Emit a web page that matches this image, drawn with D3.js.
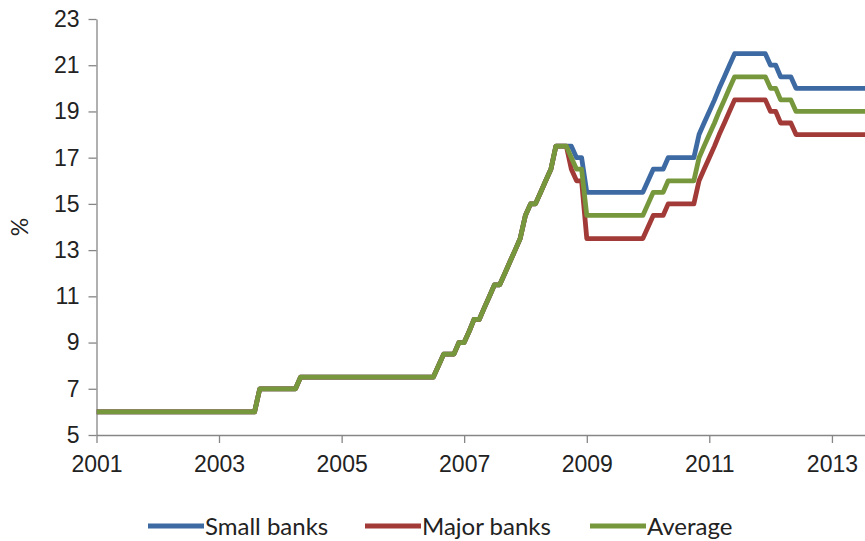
<!DOCTYPE html>
<html>
<head>
<meta charset="utf-8">
<script src="https://cdn.jsdelivr.net/npm/d3@7"></script>
<style>
  body { margin: 0; background: #fff; }
  svg { display: block; font-family: Lato, "Open Sans", sans-serif; }
  .axis path, .axis line { stroke: #868686; stroke-width: 1.3; }
  .axis text { fill: #222; font-size: 23px; }
</style>
</head>
<body>
<div id="chart"></div>
<script>
// DATA
// ------------------------------------------------------------------

// Months where the ratio changes ("YYYY-MM"), the new value is reached at month end
var sharedMonths = ["2000-12", "2003-08", "2004-04", "2006-07", "2006-08", "2006-11",
                    "2007-01", "2007-02", "2007-04", "2007-05", "2007-06", "2007-08",
                    "2007-09", "2007-10", "2007-11", "2007-12", "2008-01", "2008-03",
                    "2008-04", "2008-05", "2008-06"],
    sharedValues = [6, 7, 7.5, 8, 8.5, 9,
                    9.5, 10, 10.5, 11, 11.5, 12,
                    12.5, 13, 13.5, 14.5, 15, 15.5,
                    16, 16.5, 17.5];

var laterMonths = ["2008-09", "2008-10", "2008-12", "2009-12", "2010-01", "2010-04",
                   "2010-10", "2010-11", "2010-12", "2011-01", "2011-02", "2011-03",
                   "2011-04", "2011-05", "2011-12", "2012-02", "2012-05", "2013-07"];
var smallBanks = [17.5, 17, 15.5, 16, 16.5, 17,
                  18, 18.5, 19, 19.5, 20, 20.5,
                  21, 21.5, 21, 20.5, 20, 20];
var majorBanks = [16.5, 16, 13.5, 14, 14.5, 15,
                  16, 16.5, 17, 17.5, 18, 18.5,
                  19, 19.5, 19, 18.5, 18, 18];
var average    = [17, 16.5, 14.5, 15, 15.5, 16,
                  17, 17.5, 18, 18.5, 19, 19.5,
                  20, 20.5, 20, 19.5, 19, 19];

var seriesNames = ["Small banks", "Major banks", "Average"],
    seriesColors = ["#3d6aa3", "#a23b38", "#77973c"];

var tickYears = [2001, 2003, 2005, 2007, 2009, 2011, 2013],
    yTicks = [5, 7, 9, 11, 13, 15, 17, 19, 21, 23];

// CANVAS
// ------------------------------------------------------------------

var width = 865,
    height = 541;

var svg = d3.select("#chart")
    .append("svg")
    .attr("width", width)
    .attr("height", height);

// AXES
// ------------------------------------------------------------------

var plotLeft = 96.5, plotRight = 865, plotTop = 19, plotBottom = 435;

var xScale = d3.scaleTime()
        .domain([new Date(2001, 0, 1), new Date(2013, 6, 17)])
        .range([plotLeft, plotRight]),
    yScale = d3.scaleLinear()
        .domain([5, 23])
        .range([plotBottom, plotTop]);

var xAxis = d3.axisBottom(xScale)
        .tickValues(tickYears.map(function(y) { return new Date(y, 0, 1); }))
        .tickFormat(d3.timeFormat("%Y"))
        .tickSizeInner(8)
        .tickSizeOuter(0)
        .tickPadding(13),
    yAxis = d3.axisLeft(yScale)
        .tickValues(yTicks)
        .tickSizeInner(8)
        .tickSizeOuter(0)
        .tickPadding(9);

svg.append("g")
    .attr("class", "axis")
    .attr("transform", "translate(0," + plotBottom + ")")
    .call(xAxis);
svg.append("g")
    .attr("class", "axis")
    .attr("transform", "translate(" + plotLeft + ",0)")
    .call(yAxis);

svg.append("text")
    .attr("transform", "translate(28," + ((plotTop + plotBottom) / 2) + ") rotate(-90)")
    .style("text-anchor", "middle")
    .style("font-size", "23px")
    .attr("fill", "#222")
    .text("%");

// PATHS
// ------------------------------------------------------------------

var parseMonth = d3.timeParse("%Y-%m");

// hold the old value until the start of the month, reach the new one at its end
function stepPoints(months, values) {
  var pts = [];
  months.forEach(function(m, i) {
    var start = parseMonth(m),
        end = d3.timeMonth.offset(start, 1);
    if (i > 0) pts.push([start, values[i - 1]]);
    pts.push([end, values[i]]);
  });
  return pts;
}

var line = d3.line()
    .x(function(d) { return xScale(d[0]); })
    .y(function(d) { return yScale(d[1]); });

svg.append("clipPath")
    .attr("id", "plot-clip")
  .append("rect")
    .attr("x", plotLeft)
    .attr("y", 0)
    .attr("width", plotRight - plotLeft)
    .attr("height", plotBottom);

[smallBanks, majorBanks, average].forEach(function(vals, i) {
  var pts = stepPoints(sharedMonths.concat(laterMonths), sharedValues.concat(vals));
  svg.append("path")
      .attr("clip-path", "url(#plot-clip)")
      .attr("d", line(pts))
      .attr("fill", "none")
      .attr("stroke", seriesColors[i])
      .attr("stroke-width", 4.8)
      .attr("stroke-linejoin", "round");
});

// LEGEND
// ------------------------------------------------------------------

var legendX = [148, 365, 590];

var legend = svg.selectAll(".legend")
    .data(seriesNames)
    .enter().append("g")
    .attr("class", "legend")
    .attr("transform", function(d, i) { return "translate(" + legendX[i] + ",526)"; });

legend.append("line")
    .attr("x1", 0)
    .attr("x2", 56)
    .attr("stroke", function(d, i) { return seriesColors[i]; })
    .attr("stroke-width", 4.8);

legend.append("text")
    .attr("x", 57)
    .attr("y", 9)
    .style("font-size", "24px")
    .attr("fill", "#222")
    .text(function(d) { return d; });
</script>
</body>
</html>
